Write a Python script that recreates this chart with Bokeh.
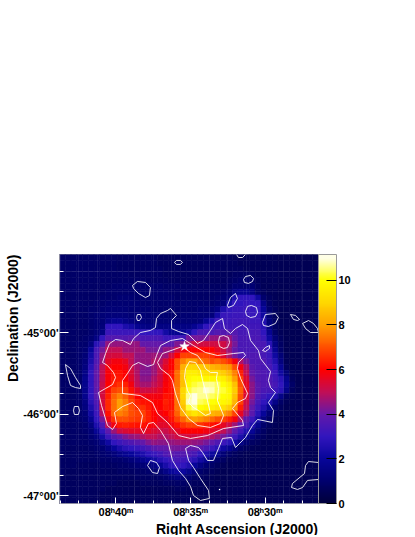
from bokeh.plotting import figure
from bokeh.embed import file_html
from bokeh.resources import INLINE
from bokeh.models import ColumnDataSource, LinearColorMapper, ColorBar, FixedTicker, Title

# ---- axes ----
ra_major = [40, 35, 30]
ra_minor = [43.75, 42.5, 41.25, 38.75, 37.5, 36.25, 33.75, 32.5, 31.25, 28.75, 27.5]
ra_labels = {40: "08ʰ40ᵐ", 35: "08ʰ35ᵐ", 30: "08ʰ30ᵐ"}
dec_major = [-45, -46, -47]
dec_minor = [-44.25, -44.5, -44.75, -45.25, -45.5, -45.75, -46.25, -46.5, -46.75, -47.0]
dec_labels = {-45: "-45°00'", -46: "-46°00'", -47: "-47°00'"}
ra_limits = (43.79, 26.41)
dec_limits = (-47.098, -44.043)
bar_ticks = [0, 2, 4, 6, 8, 10]
z_max = 11.15

# ---- colour stops (value order, evenly spaced 0..11) ----
stops = [(0, 0, 60), (0, 0, 110), (8, 6, 155), (50, 22, 190), (100, 25, 170), (195, 15, 85),
         (255, 0, 0), (255, 80, 0), (255, 160, 0), (255, 215, 0), (255, 255, 0), (255, 255, 230)]

# ---- excess map, rows from north to south, columns from east to west ----
heat = [
[.9,.9,.9,.9,.9, .9,.9,.9,.9,.9, .8,.8,.8,.8,.8, .8,.8,.7,.7,.7, .7,.7,.7,.7,.7, .7,.7,.7,.7,.7, .6,.6,.6,.6,.6, .6,.6,.6,.5,.5, .5,.5,.5,.5,.5],
[.9,.9,.9,.9,.9, .9,.9,.9,.9,.9, .8,.8,.8,.8,.8, .8,.8,.7,.7,.7, .7,.7,.7,.7,.7, .7,.7,.7,.7,.7, .7,.6,.6,.6,.6, .6,.6,.6,.5,.5, .5,.5,.5,.5,.5],
[.9,.9,.9,.9,.9, .9,.9,.9,.9,.9, .8,.8,.8,.8,.8, .8,.8,.8,.7,.7, .7,.7,.7,.7,.7, .7,.7,.7,.7,.7, .7,.7,.6,.6,.6, .6,.6,.6,.5,.5, .5,.5,.5,.5,.5],
[.9,.9,.9,.9,.9, .9,.9,.9,.9,.9, .9,.9,.8,.8,.8, .8,.8,.8,.7,.7, .7,.7,.7,.7,.7, .7,.7,.7,.7,.7, .8,.8,.8,.7,.6, .6,.6,.6,.5,.5, .5,.5,.5,.5,.5],
[.9,.9,.9,.9,.9, .9,.9,.9,.9,.9, .9,.9,.9,.9,.9, .8,.8,.8,.8,.7, .7,.7,.7,.7,.7, .7,.7,.7,.7,.8, .9,1.,1.,.9,.7, .6,.6,.6,.5,.5, .5,.5,.5,.5,.5],
[.9,.9,.9,.9,.9, .9,.9,.9,.9,1., 1.,1.,1.,1.,1., 1.,1.,1.,.9,.9, .9,.8,.8,.8,.8, .8,.8,.8,.8,.9, 1.1,1.1,1.1,1.1,.8, .6,.6,.6,.5,.5, .5,.5,.5,.5,.5],
[.9,.9,.9,.9,.9, .9,.9,.9,1.,1., 1.,1.,1.,1.,1., 1.,1.,1.,1.,.9, .9,.9,.9,.9,.9, .9,.9,.9,1.,1.1, 1.6,1.8,1.8,1.5,.9, .7,.6,.6,.5,.5, .5,.5,.5,.5,.5],
[.9,.9,.9,.9,.9, .9,.9,1.,1.,1., 1.1,1.1,1.1,1.,1., 1.,1.,1.,1.,1., .9,.9,.9,.9,.9, .9,.9,1.,1.1,1.3, 2.5,3.,3.,3.,2.2, 1.,.7,.6,.5,.5, .5,.5,.5,.5,.5],
[.9,.9,.9,.9,.9, .9,1.,1.,1.1,1.1, 1.1,1.1,1.1,1.1,1., 1.,1.,1.,1.,1., 1.,1.,1.,1.,1., 1.,1.,1.1,1.3,2.3, 3.,3.,3.1,3.,3., 1.6,.8,.6,.5,.5, .5,.5,.5,.5,.5],
[.9,.9,.9,.9,.9, 1.,1.,1.1,1.2,1.2, 1.2,1.2,1.1,1.1,1.1, 1.1,1.,1.,1.,1., 1.,1.,1.,1.,1.1, 1.1,1.2,1.5,2.5,3., 3.1,3.1,3.2,3.1,3., 2.,1.,.7,.5,.5, .5,.5,.5,.5,.5],
[.9,.9,.9,.9,.9, 1.,1.1,1.2,1.3,1.3, 1.3,1.3,1.2,1.2,1.2, 1.1,1.1,1.1,1.1,1., 1.,1.1,1.1,1.1,1.2, 1.2,1.3,2.3,3.1,3.1, 3.2,3.2,3.2,3.1,3.1, 2.2,1.1,.7,.5,.5, .5,.5,.5,.5,.5],
[.9,.9,.9,.9,.9, 1.,1.1,1.2,1.6,1.8, 1.8,1.6,1.4,1.3,1.3, 1.2,1.2,1.2,1.2,1.2, 1.2,1.2,1.2,1.2,1.3, 1.8,2.5,3.2,3.2,3.2, 3.3,3.3,3.3,3.2,3.2, 2.6,1.3,.8,.5,.5, .5,.5,.5,.5,.5],
[.9,.9,.9,.9,.9, 1.,1.1,1.3,3.,3., 3.,2.5,2.3,1.8,1.6, 1.5,1.5,1.5,1.5,1.5, 1.5,1.5,1.5,1.8,2.3, 3.,3.3,3.3,3.3,3.3, 3.3,3.3,3.3,3.3,3.3, 2.8,1.5,.8,.6,.5, .5,.5,.5,.5,.5],
[.9,.9,.9,.9,.9, 1.,1.2,1.5,3.2,3.2, 3.2,3.2,3.2,3.2,3., 3.,3.,3.,2.3,1.8, 1.8,1.8,2.3,3.,3.5, 3.5,3.5,3.7,3.7,3.7, 3.7,3.4,3.4,3.4,3.4, 3.,1.8,.9,.6,.5, .5,.5,.5,.5,.5],
[.9,.9,.9,.9,1., 1.1,1.5,3.,3.7,3.7, 3.7,3.7,3.8,3.8,3.5, 3.5,3.5,3.5,3.2,3.2, 3.3,3.3,4.2,4.2,4.2, 4.2,4.5,4.5,4.5,4.5, 4.,3.5,3.5,3.5,3.5, 3.2,2.2,1.2,.7,.5, .5,.5,.5,.5,.5],
[.9,.9,.9,1.,1., 1.4,2.8,3.6,4.5,4.5, 4.5,4.5,4.5,4.5,4., 4.,4.,4.,3.8,3.8, 4.3,4.3,4.8,5.2,5.2, 5.2,5.2,5.2,5.2,4.8, 4.2,3.5,3.5,3.5,3.5, 3.5,2.8,1.5,.8,.5, .5,.5,.5,.5,.5],
[.9,.9,.9,1.,1.1, 2.,3.4,4.2,5.,5., 5.,4.6,4.6,4.6,4.6, 4.2,4.2,4.2,4.5,4.5, 5.2,5.8,6.,6.,6., 6.,6.,5.6,5.2,4.6, 4.,3.5,3.5,3.5,3.5, 3.5,3.2,1.8,.9,.5, .5,.5,.5,.5,.5],
[.9,.9,.9,1.,1.2, 2.3,3.5,4.5,5.2,5.3, 5.3,5.,5.,4.5,4.5, 4.5,4.6,4.6,4.6,5.3, 6.,6.8,6.8,6.8,6.8, 6.8,6.6,6.2,5.5,4.8, 4.2,3.6,3.6,3.6,3.6, 3.4,3.2,2.2,1.2,.6, .5,.5,.5,.5,.5],
[.9,.9,.9,1.,1.3, 2.5,3.6,4.6,5.5,5.8, 5.8,5.6,5.,4.5,4.5, 4.5,4.8,4.8,5.4,6., 7.,7.6,8.,8.,7.6, 7.3,7.,7.2,7.,6.6, 5.8,4.8,4.2,3.6,3.6, 3.6,3.3,2.6,1.4,.6, .5,.5,.5,.5,.5],
[.9,.9,.9,1.,1.4, 2.8,3.8,5.,5.8,6., 6.,5.8,5.2,4.7,4.4, 4.3,4.6,5.,5.6,6., 7.,8.3,9.,9.,8.8, 8.6,8.4,8.2,8.,7.8, 7.,5.8,4.8,3.8,3.6, 3.5,3.4,3.,1.8,.7, .5,.5,.5,.5,.5],
[.9,.9,.9,1.,1.6, 3.,4.,5.,5.9,6.2, 6.2,6.,5.4,4.8,4.3, 4.3,4.6,5.1,5.8,6.2, 7.4,8.6,9.6,9.6,9.4, 9.2,9.,9.,8.8,8.4, 7.6,6.4,5.,4.,3.7, 3.6,3.5,3.2,2.2,1.2, .6,.5,.5,.5,.5],
[.9,.9,.9,1.,1.7, 3.,4.,5.,5.9,6.3, 6.3,6.,5.5,4.9,4.4, 4.4,4.8,5.2,5.8,6.2, 7.4,8.6,9.8,10.,10., 9.8,9.8,9.8,9.6,9., 8.,6.8,5.4,4.2,3.7, 3.6,3.6,3.3,2.8,1.7, .7,.5,.5,.5,.5],
[.9,.9,.9,1.,1.7, 3.,4.,5.1,6.,6.4, 6.6,6.4,5.8,5.,4.7, 4.7,5.,5.3,5.9,6.2, 7.4,8.6,10.,10.2,10.4, 10.6,10.6,10.4,10.,9.6, 8.6,7.,5.6,4.4,3.8, 3.6,3.6,3.4,3.,1.9, .9,.5,.5,.5,.5],
[.9,.9,.9,1.,1.7, 3.,3.9,5.2,6.2,6.8, 7.,6.8,6.2,5.6,5.2, 5.2,5.4,5.6,6.,6.2, 7.5,9.,10.2,10.5,10.6, 10.9,10.8,10.4,10.2,9.8, 8.8,7.2,5.6,4.4,3.8, 3.5,3.4,3.2,2.8,1.6, .7,.5,.5,.5,.5],
[.9,.9,.9,1.,1.7, 3.,3.8,5.3,6.4,7.2, 7.6,7.2,6.6,6.,5.8, 5.8,5.8,5.8,6.2,6.2, 7.5,9.,10.6,11.,10.6, 10.6,10.4,10.2,10.,9.8, 8.6,7.,5.4,4.4,3.6, 3.3,3.,2.5,1.6,.8, .6,.5,.5,.5,.5],
[.9,.9,.9,1.,1.5, 2.8,3.6,5.3,6.5,7.4, 8.,7.6,6.9,6.4,6.2, 6.2,6.,6.,6.4,6.2, 7.4,8.8,10.8,11.,10.4, 10.2,10.,9.9,9.8,9.6, 8.4,6.8,5.2,4.2,3.4, 3.,2.5,1.6,.9,.6, .5,.5,.5,.5,.5],
[.9,.9,.9,1.,1.4, 2.5,3.4,5.2,6.5,7.4, 8.,7.6,7.,6.6,6.6, 6.3,6.,6.,6.3,6.2, 7.4,8.6,10.2,10.6,10., 9.8,9.6,9.4,9.2,8.8, 7.8,6.4,5.,4.,3.2, 2.6,1.8,1.,.7,.5, .5,.5,.5,.5,.5],
[.9,.9,.9,1.,1.2, 2.2,3.2,4.8,6.2,7.2, 7.6,7.4,7.,6.8,6.8, 6.4,6.,5.8,6.,6.4, 7.2,8.2,9.,9.4,9., 8.8,8.4,8.2,8.,7.6, 6.8,5.6,4.6,3.8,2.8, 2.,1.2,.8,.6,.5, .5,.5,.5,.5,.5],
[.9,.9,.9,1.,1.1, 1.8,3.,4.2,5.7,6.6, 7.,7.,6.8,6.7,6.7, 6.4,6.,5.7,5.7,6.2, 6.8,7.3,7.8,8.,7.8, 7.6,7.3,7.,6.8,6.4, 5.8,4.8,3.8,3.2,2.3, 1.4,.9,.6,.5,.5, .5,.5,.5,.5,.5],
[.9,.9,.9,.9,1., 1.4,2.5,3.6,5.,5.8, 6.3,6.4,6.3,6.2,6.2, 6.,5.8,5.5,5.5,5.8, 6.2,6.6,6.8,6.8,6.6, 6.4,6.2,6.,5.6,5.2, 4.6,3.9,3.4,2.6,1.7, 1.,.7,.6,.5,.5, .5,.5,.5,.5,.5],
[.9,.9,.9,.9,1., 1.2,1.9,3.,3.9,4.6, 5.2,5.4,5.5,5.5,5.6, 5.6,5.4,5.2,5.1,5.4, 5.6,6.,6.,6.,6., 5.8,5.6,5.4,5.,4.5, 3.9,3.3,2.6,1.9,1.2, .8,.6,.5,.5,.5, .5,.5,.5,.5,.5],
[.9,.9,.9,.9,.9, 1.1,1.4,2.3,3.2,3.7, 4.,4.3,4.5,4.6,4.8, 5.,5.,4.8,4.8,5., 5.2,5.2,5.3,5.2,5.2, 5.,4.8,4.5,4.2,3.7, 3.2,2.5,1.8,1.3,.9, .7,.5,.5,.5,.5, .5,.5,.5,.5,.5],
[.9,.9,.9,.9,.9, 1.,1.1,1.6,2.2,3., 3.2,3.4,3.6,3.8,4., 4.3,4.5,4.4,4.4,4.5, 4.6,4.6,4.6,4.5,4.4, 4.2,4.,3.6,3.2,2.8, 2.2,1.6,1.1,.8,.7, .5,.5,.5,.5,.5, .5,.5,.5,.5,.5],
[.9,.8,.8,.8,.8, .9,1.,1.1,1.5,2., 2.4,2.8,3.,3.1,3.3, 3.5,3.8,4.,4.,4.2, 4.2,4.1,4.,4.,3.8, 3.5,3.2,2.8,2.2,1.8, 1.3,.9,.7,.6,.5, .5,.5,.5,.5,.5, .5,.5,.5,.5,.5],
[.8,.8,.8,.8,.8, .8,.9,1.,1.1,1.3, 1.6,1.8,2.,2.3,2.5, 2.9,3.1,3.3,3.6,3.8, 3.7,3.7,3.6,3.4,3., 2.6,2.1,1.7,1.2,.9, .7,.6,.5,.5,.5, .5,.5,.5,.5,.5, .5,.5,.5,.5,.5],
[.8,.8,.8,.8,.8, .8,.8,.9,.9,1., 1.,1.1,1.3,1.5,1.7, 2.,2.3,2.7,3.,3.2, 3.4,3.3,3.1,2.8,2.3, 1.8,1.3,1.,.8,.6, .6,.5,.5,.5,.5, .5,.5,.5,.5,.5, .5,.5,.5,.5,.5],
[.8,.8,.8,.7,.7, .7,.7,.8,.8,.8, .9,.9,1.,1.1,1.2, 1.3,1.5,1.9,2.4,2.9, 3.1,3.,2.6,2.,1.5, 1.1,.9,.7,.6,.5, .5,.5,.5,.5,.5, .5,.5,.5,.5,.5, .5,.5,.5,.5,.5],
[.8,.7,.7,.7,.7, .7,.7,.7,.7,.7, .8,.8,.8,.9,.9, 1.,1.1,1.2,1.6,2., 2.2,2.1,1.7,1.3,1., .8,.7,.6,.5,.5, .5,.5,.5,.5,.5, .5,.5,.5,.5,.5, .5,.5,.5,.5,.5],
[.7,.7,.7,.7,.7, .7,.7,.7,.7,.7, .7,.7,.7,.8,.8, .8,.8,.9,1.,1.2, 1.4,1.3,1.1,.9,.8, .7,.6,.5,.5,.5, .5,.5,.5,.5,.5, .5,.5,.5,.5,.5, .5,.5,.5,.5,.5],
[.7,.7,.7,.7,.7, .7,.7,.7,.7,.7, .6,.6,.6,.6,.7, .7,.7,.7,.8,.8, .9,.9,.8,.7,.7, .6,.6,.5,.5,.5, .5,.5,.5,.5,.5, .5,.5,.5,.5,.5, .5,.5,.5,.5,.5],
[.7,.7,.7,.7,.7, .7,.7,.7,.6,.6, .6,.6,.6,.6,.6, .6,.6,.6,.6,.6, .7,.7,.6,.6,.6, .6,.5,.5,.5,.5, .5,.5,.5,.5,.5, .5,.5,.5,.5,.5, .5,.5,.5,.5,.5],
[.7,.7,.7,.7,.7, .7,.7,.6,.6,.6, .6,.6,.6,.6,.6, .6,.6,.6,.6,.6, .6,.6,.6,.6,.5, .5,.5,.5,.5,.5, .5,.5,.5,.5,.5, .5,.5,.5,.5,.5, .5,.5,.5,.5,.5],
[.7,.7,.7,.7,.7, .7,.7,.6,.6,.6, .6,.6,.6,.6,.6, .6,.6,.6,.6,.6, .6,.6,.6,.5,.5, .5,.5,.5,.5,.5, .5,.5,.5,.5,.5, .5,.5,.5,.5,.5, .5,.5,.5,.5,.5],
]

# ---- contour lines ----
c1_ra = [40.90,40.70,40.43,40.03,39.56,39.03,38.82,38.36,37.69,37.35,37.28,37.01,36.54,36.34,35.94,36.27,36.27,35.80,35.13,34.53,34.13,33.66,33.32,32.85,32.72,32.32,31.98,31.51,31.17,30.97,30.44,30.30,29.63,29.77,29.63,29.30,29.77,29.43,29.50,30.50,30.84,31.31,31.98,32.25,32.85,33.12,33.46,33.86,34.19,34.46,35.00,35.33,35.13,34.80,34.33,33.79,33.73,34.33,34.80,35.00,35.33,35.80,36.21,36.48,37.01,37.48,37.82,38.15,38.36,38.22,38.49,38.89,39.56,40.10,39.97,40.23,40.57,40.97,41.17,40.70,40.23,40.03,40.17,40.57,40.90]
c1_dec = [-45.368,-45.258,-45.135,-45.086,-45.098,-45.147,-45.074,-45.0,-44.975,-44.939,-44.828,-44.767,-44.73,-44.705,-44.791,-44.853,-44.951,-44.988,-45.025,-45.135,-45.098,-44.975,-44.877,-44.828,-44.951,-45.012,-44.951,-44.902,-44.951,-45.098,-45.221,-45.319,-45.478,-45.589,-45.675,-45.736,-45.859,-45.957,-46.104,-46.067,-46.141,-46.288,-46.411,-46.288,-46.30,-46.423,-46.57,-46.57,-46.472,-46.411,-46.386,-46.423,-46.57,-46.656,-46.791,-46.938,-47.036,-47.061,-46.999,-46.889,-46.791,-46.693,-46.57,-46.362,-46.202,-46.104,-46.116,-46.239,-46.165,-46.018,-45.932,-45.859,-45.908,-45.981,-46.116,-46.19,-46.141,-45.896,-45.736,-45.687,-45.638,-45.552,-45.49,-45.405,-45.368]
c2_ra = [39.56,39.23,38.89,38.49,37.88,37.48,37.28,37.01,36.34,35.54,34.80,34.00,33.19,32.11,31.44,31.31,31.78,31.85,31.64,31.17,31.31,31.85,32.18,31.51,31.44,32.78,33.86,35.00,35.80,36.54,37.21,37.55,38.36,39.56,39.56]
c2_dec = [-45.589,-45.503,-45.405,-45.368,-45.417,-45.393,-45.282,-45.16,-45.098,-45.074,-45.16,-45.245,-45.282,-45.258,-45.245,-45.282,-45.368,-45.442,-45.564,-45.748,-45.81,-45.859,-45.932,-46.079,-46.141,-46.178,-46.264,-46.30,-46.264,-46.104,-45.994,-45.859,-45.773,-45.748,-45.589]
c3_ra = [37.21,36.88,35.54,35.00,34.53,34.13,34.00,33.66,33.19,33.26,33.12,33.19,32.78,32.99,33.66,34.53,35.13,35.67,36.01,36.21,36.41,37.01,37.21]
c3_dec = [-45.368,-45.258,-45.172,-45.245,-45.282,-45.381,-45.442,-45.49,-45.49,-45.564,-45.687,-45.834,-46.018,-46.116,-46.165,-46.141,-46.055,-45.92,-45.748,-45.589,-45.528,-45.442,-45.368]
c4_ra = [35.33,35.07,34.66,34.33,34.19,34.00,33.86,33.66,34.00,34.46,34.80,35.13,35.00,35.20,35.40,35.33]
c4_dec = [-45.442,-45.356,-45.368,-45.466,-45.589,-45.711,-45.834,-45.994,-46.018,-45.957,-45.92,-45.859,-45.773,-45.711,-45.552,-45.442]
i1_ra = [36.07,35.94,35.67,35.54,35.67,35.94,36.07]
i1_dec = [-44.14,-44.116,-44.116,-44.14,-44.165,-44.165,-44.14]
i2_ra = [38.89,38.56,38.02,37.69,37.75,38.02,38.49,38.82,38.89]
i2_dec = [-44.423,-44.374,-44.386,-44.447,-44.546,-44.571,-44.521,-44.46,-44.423]
i3_ra = [38.62,38.56,38.36,38.29,38.42,38.56,38.62]
i3_dec = [-44.816,-44.779,-44.779,-44.816,-44.853,-44.853,-44.816]
i4_ra = [43.39,43.05,42.72,42.38,42.38,42.72,43.05,43.25,43.39]
i4_dec = [-45.393,-45.442,-45.552,-45.65,-45.687,-45.675,-45.65,-45.528,-45.393]
i5_ra = [42.85,42.79,42.52,42.45,42.52,42.79,42.85]
i5_dec = [-45.957,-45.908,-45.908,-45.957,-46.006,-46.006,-45.957]
i6_ra = [37.88,37.69,37.28,37.08,37.21,37.55,37.88]
i6_dec = [-46.632,-46.57,-46.595,-46.656,-46.73,-46.718,-46.632]
i7_ra = [31.91,31.78,31.51,31.31]
i7_dec = [-44.043,-44.08,-44.08,-44.043]
i8_ra = [31.44,31.31,30.97,30.77,30.84,31.11,31.38,31.44]
i8_dec = [-44.349,-44.313,-44.30,-44.337,-44.374,-44.398,-44.386,-44.349]
i9_ra = [32.52,32.32,31.98,31.85,32.11,32.45,32.52]
i9_dec = [-44.668,-44.571,-44.521,-44.583,-44.668,-44.693,-44.668]
i10_ra = [31.31,31.17,30.91,30.57,30.50,30.64,30.97,31.24,31.31]
i10_dec = [-44.742,-44.68,-44.668,-44.693,-44.754,-44.804,-44.816,-44.791,-44.742]
i11_ra = [30.17,29.97,29.30,29.10,29.30,29.77,30.10,30.17]
i11_dec = [-44.877,-44.779,-44.767,-44.816,-44.889,-44.926,-44.914,-44.877]
i12_ra = [28.29,27.95,27.68,27.82,28.09,28.29]
i12_dec = [-44.779,-44.791,-44.84,-44.853,-44.84,-44.779]
i13_ra = [27.48,27.08,26.75,26.48,26.41,26.95,27.28,27.48]
i13_dec = [-44.889,-44.853,-44.889,-44.951,-45.0,-45.0,-44.951,-44.889]
i14_ra = [33.12,33.05,32.78,32.45,32.38,32.52,32.78,33.05,33.12]
i14_dec = [-45.11,-45.049,-45.037,-45.061,-45.123,-45.184,-45.196,-45.172,-45.11]
i15_ra = [30.17,29.97,29.70,29.70,29.97,30.17]
i15_dec = [-45.221,-45.184,-45.16,-45.196,-45.233,-45.221]
i16_ra = [26.41,27.08,27.28,27.35,28.16,28.22,27.82,27.48,27.15,26.41]
i16_dec = [-46.595,-46.583,-46.632,-46.73,-46.853,-46.902,-46.926,-46.902,-46.815,-46.803]
star_ra = [35.40]
star_dec = [-45.17]
dot_ra = [33.05]
dot_dec = [-46.926]

# ---- palette ----
palette = []
n = 256
for k in range(n):
    t = k / (n - 1) * z_max
    i = min(int(t), len(stops) - 2)
    f = min(t - i, 1.0)
    a, b = stops[i], stops[i + 1]
    palette.append("#%02x%02x%02x" % tuple(int(a[j] + (b[j] - a[j]) * f) for j in range(3)))
mapper = LinearColorMapper(palette=palette, low=0, high=z_max)

FONT = "Liberation Sans"
p = figure(frame_width=259, frame_height=249, width=399, height=537,
           x_range=ra_limits, y_range=dec_limits, output_backend="svg",
           toolbar_location=None, min_border_left=59, min_border_top=254,
           min_border_right=5, min_border_bottom=30, background_fill_color="white")

# cells
nrow = len(heat)
dx = (ra_limits[0] - ra_limits[1]) / 45.0
dy = (dec_limits[1] - dec_limits[0]) / nrow
left, right, top, bottom, val = [], [], [], [], []
for r, row in enumerate(heat):
    for c, v in enumerate(row):
        left.append(ra_limits[0] - c * dx)
        right.append(ra_limits[0] - (c + 1) * dx)
        top.append(dec_limits[1] - r * dy)
        bottom.append(dec_limits[1] - (r + 1) * dy)
        val.append(v)
src = ColumnDataSource(dict(left=left, right=right, top=top, bottom=bottom, val=val))
cmap = {"field": "val", "transform": mapper}
p.quad(left="left", right="right", top="top", bottom="bottom", source=src,
       fill_color=cmap, line_color=cmap, line_width=0.6)

# contours
lines = [(c1_ra, c1_dec), (c2_ra, c2_dec), (c3_ra, c3_dec), (c4_ra, c4_dec),
         (i1_ra, i1_dec), (i2_ra, i2_dec), (i3_ra, i3_dec), (i4_ra, i4_dec),
         (i5_ra, i5_dec), (i6_ra, i6_dec), (i7_ra, i7_dec), (i8_ra, i8_dec),
         (i9_ra, i9_dec), (i10_ra, i10_dec), (i11_ra, i11_dec), (i12_ra, i12_dec),
         (i13_ra, i13_dec), (i14_ra, i14_dec), (i15_ra, i15_dec), (i16_ra, i16_dec)]
for xs, ys in lines:
    p.line(xs, ys, line_color="white", line_width=1, line_alpha=0.85)

p.star(star_ra, star_dec, size=10, fill_color="white", line_color="white", line_width=0.5)
p.scatter(dot_ra, dot_dec, size=1.5, fill_color="white", line_color=None)

# faint grid on top of the map
p.xgrid.ticker = FixedTicker(ticks=ra_minor)
p.ygrid.ticker = FixedTicker(ticks=dec_minor)
p.grid.grid_line_color = "white"
p.grid.grid_line_alpha = 0.08
p.grid.grid_line_width = 1
p.grid.level = "annotation"

# axes
xa, ya = p.xaxis[0], p.yaxis[0]
xa.ticker = FixedTicker(ticks=ra_major, minor_ticks=ra_minor)
ya.ticker = FixedTicker(ticks=dec_major, minor_ticks=dec_minor)
xa.major_label_overrides = ra_labels
ya.major_label_overrides = dec_labels
for ax in (xa, ya):
    ax.major_label_text_font = FONT
    ax.major_label_text_font_size = "11px"
    ax.major_label_text_font_style = "bold"
    ax.major_label_text_color = "black"
    ax.major_tick_line_color = "white"
    ax.minor_tick_line_color = "white"
    ax.major_tick_out = 0
    ax.minor_tick_out = 0
    ax.axis_line_color = "#8c8ca0"
xa.major_tick_in = 6
xa.minor_tick_in = 3
ya.major_tick_in = 9
ya.minor_tick_in = 4
xa.major_label_standoff = 2
ya.major_label_standoff = 1
ya.major_label_orientation = "horizontal"
p.outline_line_color = "#8c8ca0"

# axis titles, right-aligned against the frame's corner as in the reference
p.add_layout(Title(text="Right Ascension (J2000)", align="right", standoff=-3,
                   text_font=FONT, text_font_size="14px", text_font_style="bold",
                   text_color="black"), "below")
p.add_layout(Title(text="Declination (J2000)", align="right", standoff=0,
                   text_font=FONT, text_font_size="14px", text_font_style="bold",
                   text_color="black"), "left")

cb = ColorBar(color_mapper=mapper, ticker=FixedTicker(ticks=bar_ticks), width=18,
              padding=0, margin=2, label_standoff=2,
              major_label_text_font=FONT, major_label_text_font_size="11px",
              major_label_text_font_style="bold", major_label_text_color="black",
              major_tick_line_color="black", major_tick_in=10, major_tick_out=0,
              minor_tick_line_color=None, bar_line_color="#9a9a9a", title=None)
p.add_layout(cb, "right")

open("out.html", "w").write(file_html(p, INLINE))
